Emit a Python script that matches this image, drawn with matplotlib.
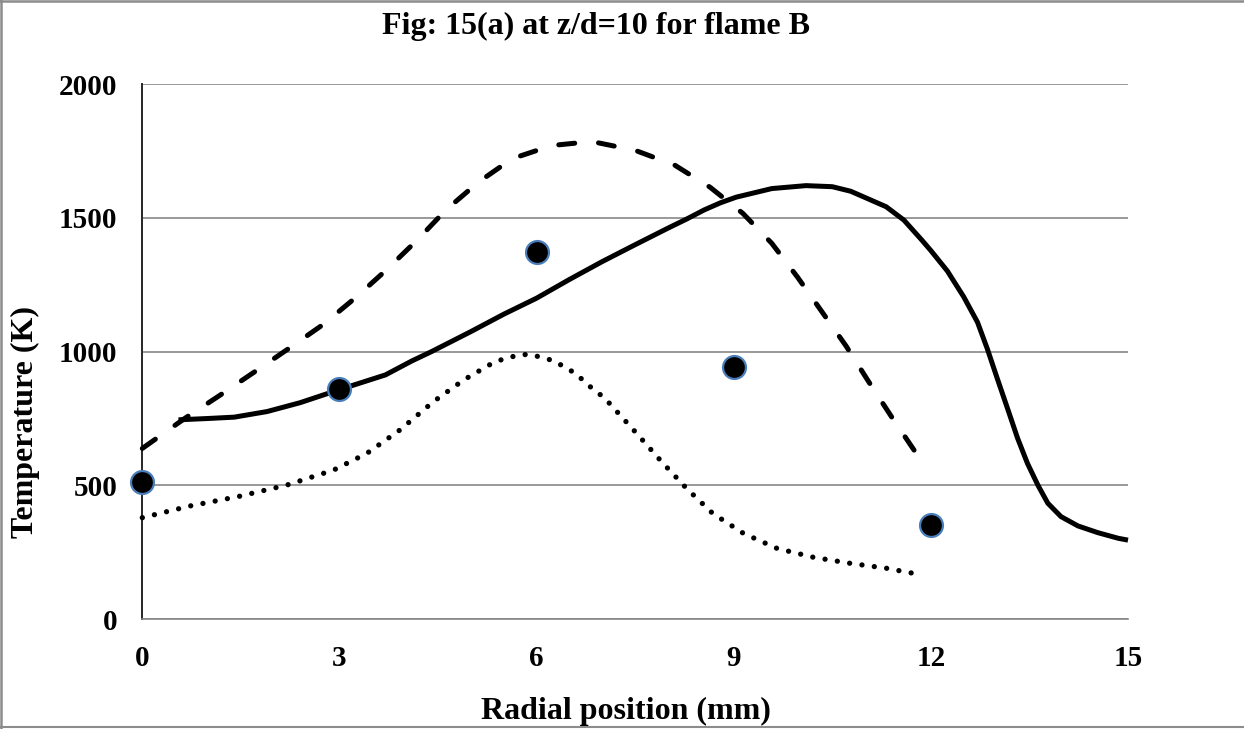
import matplotlib
matplotlib.use("Agg")
import matplotlib.pyplot as plt
from matplotlib.lines import Line2D

# ---- data ----
solid_x = [0.55, 1.0, 1.4, 1.9, 2.4, 3.0, 3.7, 4.1, 4.4, 5.0, 5.5, 6.0, 6.5, 7.0, 7.5, 8.0,
           8.3, 8.55, 8.8, 9.04, 9.58, 10.1, 10.5, 10.78, 11.32, 11.59, 11.86, 12.0, 12.25,
           12.5, 12.71, 12.86, 13.01, 13.17, 13.32, 13.47, 13.63, 13.78, 13.98, 14.24,
           14.54, 14.85, 15.0]
solid_y = [745, 750, 755, 776, 809, 858, 913, 965, 1000, 1075, 1140, 1200, 1270, 1337, 1400, 1462,
           1498, 1530, 1557, 1578, 1610, 1621, 1617, 1600, 1542, 1492, 1418, 1378, 1302,
           1205, 1110, 1010, 900, 785, 676, 582, 500, 433, 383, 348,
           323, 302, 295]

dash_x = [0, 0.65, 1.17, 1.70, 2.23, 2.76, 3.25, 3.72, 4.19, 4.62, 5.12, 5.63, 6.23, 6.84,
          7.50, 8.10, 8.64, 9.14, 9.58, 9.97, 10.34, 10.71, 11.05, 11.40, 11.76, 11.85]
dash_y = [638, 751, 835, 923, 1012, 1103, 1203, 1307, 1419, 1530, 1635, 1722, 1771, 1786,
          1753, 1698, 1615, 1517, 1405, 1279, 1150, 1021, 889, 757, 626, 597]

dot_x = [0, 0.73, 1.46, 2.2, 2.91, 3.42, 3.92, 4.43, 4.89, 5.37, 5.73, 5.9, 6.26, 6.59, 6.87,
         7.03, 7.52, 7.9, 8.28, 8.68, 9.15, 9.66, 10.21, 10.78, 11.32, 11.86]
dot_y = [379, 423, 458, 501, 557, 620, 707, 813, 894, 963, 988, 990, 966, 919, 857,
         828, 695, 589, 489, 395, 320, 264, 231, 208, 190, 165]

exp_x = [0, 3, 6, 9, 12]
exp_y = [511, 860, 1374, 944, 350]

x_ticks = [0, 3, 6, 9, 12, 15]
y_ticks = [0, 500, 1000, 1500, 2000]

title = "Fig: 15(a) at z/d=10 for flame B"
xlabel = "Radial position (mm)"
ylabel = "Temperature (K)"

# ---- figure ----
W, H = 1244, 729
plt.rcParams['font.family'] = ['Liberation Serif', 'DejaVu Serif']
plt.rcParams['font.weight'] = 'bold'
fig = plt.figure(figsize=(W / 100, H / 100), dpi=100)
fig.patch.set_facecolor('white')

left, right, top, bottom = 142.3, 1128, 84.3, 619
ax = fig.add_axes([left / W, 1 - bottom / H, (right - left) / W, (bottom - top) / H])
ax.set_xlim(0, 15)
ax.set_ylim(0, 2000)

grid_c = '#878787'
ax.set_yticks(y_ticks)
ax.set_xticks(x_ticks)
ax.yaxis.grid(True, color=grid_c, linewidth=1.2)
ax.set_axisbelow(True)
for s in ['top', 'right']:
    ax.spines[s].set_visible(False)
ax.spines['bottom'].set_color(grid_c)
ax.spines['bottom'].set_linewidth(1.2)
ax.spines['left'].set_color('#262626')
ax.spines['left'].set_linewidth(1.4)
ax.tick_params(axis='both', length=0, labelsize=21)
ax.tick_params(axis='x', pad=19)
ax.tick_params(axis='y', pad=18)
for lab in ax.get_xticklabels() + ax.get_yticklabels():
    lab.set_fontweight('bold')

lw = 3.6
ax.plot(solid_x, solid_y, color='black', linewidth=lw, solid_capstyle='butt',
        solid_joinstyle='round', clip_on=False, zorder=3)
ax.plot(dash_x, dash_y, color='black', linewidth=lw, dashes=(3.2, 4.8),
        dash_capstyle='round', clip_on=False, zorder=3)
ax.plot(dot_x, dot_y, color='black', linewidth=3.8, dashes=(0.01, 2.35),
        dash_capstyle='round', clip_on=False, zorder=3)
ax.plot(exp_x, exp_y, linestyle='none', marker='o', markersize=16.5,
        markerfacecolor='black', markeredgecolor='#4a7ebb', markeredgewidth=1.6,
        clip_on=False, zorder=4)

fig.text(596 / W, 1 - 34 / H, title, ha='center', va='baseline',
         fontsize=23, fontweight='bold')
fig.text(625.5 / W, 1 - 719 / H, xlabel, ha='center', va='baseline',
         fontsize=23, fontweight='bold')
fig.text(25 / W, 1 - 421.5 / H, ylabel, ha='center', va='center', rotation=90,
         fontsize=23, fontweight='bold')

# outer chart-area frame (left, top, bottom)
border_c = '#8c8c8c'
fig.add_artist(Line2D([1 / W, 1 / W], [0, 1], transform=fig.transFigure,
                      color=border_c, linewidth=1.8))
fig.add_artist(Line2D([0, 1], [1 - 0.8 / H, 1 - 0.8 / H], transform=fig.transFigure,
                      color=border_c, linewidth=1.8))
fig.add_artist(Line2D([0, 1], [2 / H, 2 / H], transform=fig.transFigure,
                      color=border_c, linewidth=1.5))

fig.savefig('out.png', dpi=100, facecolor='white')
